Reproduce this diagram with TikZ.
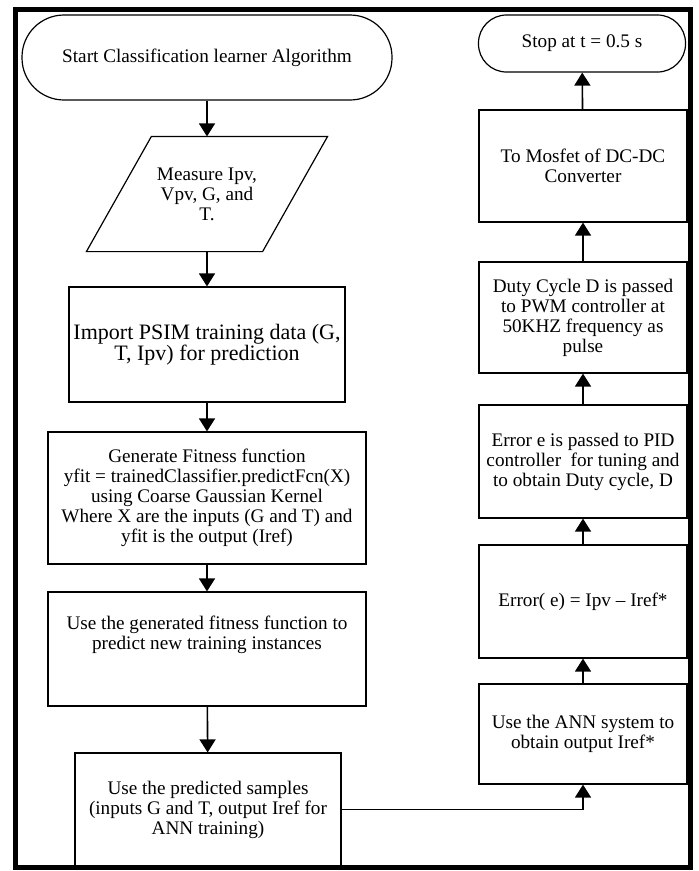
\documentclass[tikz,border=0pt]{standalone}
\usepackage{fontspec}
\setmainfont{Liberation Serif}
\usetikzlibrary{arrows.meta}

\begin{document}
\begin{tikzpicture}[x=1pt, y=-1pt,
        box/.style={draw, line width=1.2pt, align=center, inner sep=2pt,
            font=\fontsize{19.2}{20}\selectfont},
        term/.style={box, rounded corners=#1},
        flow/.style={line width=1.6pt, -{Triangle[length=13pt, width=16pt]}}]
        \useasboundingbox (0, 0) rectangle (699, 871);

        % left column
        \node[term=42pt, minimum width=370pt, minimum height=85pt] (start) at (207, 57.5) {Start Classification learner Algorithm};
        \node[box, draw=none, minimum width=240pt, minimum height=114pt] (measure) at (207, 194) {Measure Ipv,\\ Vpv, G, and\\ T.};
        \draw[line width=1.2pt] ([xshift=65pt]measure.north west) -- (measure.north east)
            -- ([xshift=-65pt]measure.south east) -- (measure.south west) -- cycle;
        \node[box, minimum width=276pt, minimum height=115pt, font=\fontsize{22}{21.5}\selectfont] (import) at (207, 344.5) {Import PSIM training data (G,\\ T, Ipv) for prediction};
        \node[box, minimum width=318pt, minimum height=132pt] (fitness) at (207, 498) {Generate Fitness function\\ yfit = trainedClassifier.predictFcn(X)\\ using Coarse Gaussian Kernel\\ Where X are the inputs (G and T) and\\ yfit is the output (Iref)};
        \node[box, minimum width=318pt, minimum height=114pt] (predict) at (207, 649) {};
        \node[box, draw=none] (predicttext) at (207, 635) {Use the generated fitness function to\\ predict new training instances};
        \node[box, minimum width=266pt, minimum height=113pt] (samples) at (208, 809.5) {Use the predicted samples\\ (inputs G and T, output Iref for\\ ANN training)};

        % right column
        \node[box, minimum width=208pt, minimum height=100pt] (ann) at (583, 734) {Use the ANN system to\\ obtain output Iref*};
        \node[box, minimum width=208pt, minimum height=113pt] (error) at (583, 601.5) {Error( e) = Ipv -- Iref*};
        \node[box, minimum width=208pt, minimum height=113pt] (pid) at (583, 461.5) {Error e is passed to PID\\ controller \ for tuning and\\ to obtain Duty cycle, D};
        \node[box, minimum width=208pt, minimum height=111pt] (duty) at (583, 317.5) {Duty Cycle D is passed\\ to PWM controller at\\ 50KHZ frequency as\\ pulse};
        \node[box, minimum width=208pt, minimum height=112pt] (mosfet) at (583, 166) {To Mosfet of DC-DC\\ Converter};
        \node[term=28pt, minimum width=207pt, minimum height=57pt] (stop) at (582, 43.5) {Stop at t = 0.5 s};

        \path[flow]
            (start) edge (measure)
            (measure) edge (import)
            (import) edge (fitness)
            (fitness) edge (predict)
            (predict) edge (samples)
            (ann) edge (error)
            (error) edge (pid)
            (pid) edge (duty)
            (duty) edge (mosfet)
            (mosfet) edge (stop);
        \draw[flow] (samples.east) -| (ann.south);

        % frame
        \draw[line width=5pt] (15.5, 9.5) rectangle (690, 867.5);
    \end{tikzpicture}
\end{document}
